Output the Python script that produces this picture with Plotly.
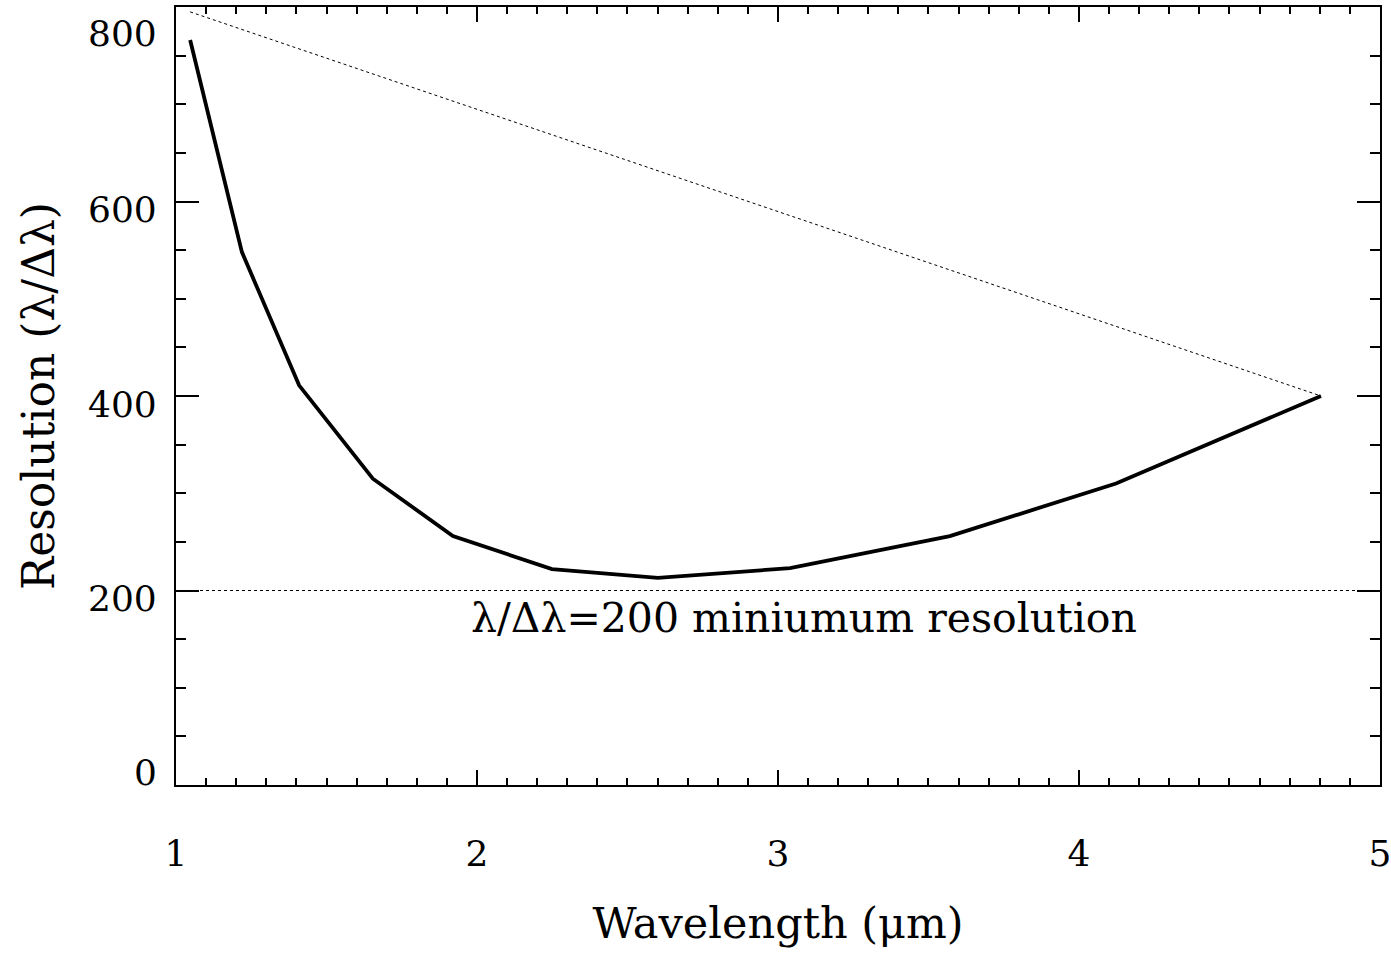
import plotly.graph_objects as go

# Resolution curve (solid)
wavelength = [1.047, 1.219, 1.409, 1.654, 1.920, 2.249, 2.601, 3.040, 3.571, 4.123, 4.804]
resolution = [766, 548, 411, 315, 256, 222, 213, 223, 256, 310, 400]

# Dotted reference line
ref_wavelength = [1.047, 4.804]
ref_resolution = [795, 400]

# Minimum resolution level
min_wavelength = [1.0, 5.0]
min_resolution = [200, 200]
min_label = "λ/Δλ=200 miniumum resolution"

x_ticks = [1, 2, 3, 4, 5]
y_ticks = [0, 200, 400, 600, 800]

FONT = "DejaVu Serif"

fig = go.Figure()
fig.add_trace(go.Scatter(x=min_wavelength, y=min_resolution, mode="lines",
                         line=dict(color="black", width=1, dash="dot"), showlegend=False))
fig.add_trace(go.Scatter(x=ref_wavelength, y=ref_resolution, mode="lines",
                         line=dict(color="black", width=1, dash="dot"), showlegend=False))
fig.add_trace(go.Scatter(x=wavelength, y=resolution, mode="lines",
                         line=dict(color="black", width=3.8), showlegend=False))

fig.add_annotation(x=3.086, y=172, text=min_label, showarrow=False,
                   font=dict(family=FONT, size=41, color="black"))

# y tick labels placed like the original (kept inside the plot's vertical extent)
for v in y_ticks:
    if v == y_ticks[0]:
        shift = 13
    elif v == y_ticks[-1]:
        shift = -26
    else:
        shift = -8
    fig.add_annotation(x=0, xref="paper", y=v, yref="y", text=str(v), showarrow=False,
                       xanchor="right", yanchor="middle", xshift=-17, yshift=shift,
                       font=dict(family=FONT, size=36, color="black"))

fig.update_layout(
    width=1391, height=955,
    margin=dict(l=176, r=11, t=7, b=170, autoexpand=False),
    paper_bgcolor="white", plot_bgcolor="white",
    font=dict(family=FONT, size=36, color="black"),
)
fig.update_xaxes(
    range=[1, 5.0001], tickvals=x_ticks, ticktext=[str(v) for v in x_ticks],
    showline=True, linecolor="black", linewidth=1.5, mirror="ticks",
    ticks="inside", ticklen=15, tickwidth=1.5, tickcolor="black",
    minor=dict(dtick=0.1, ticks="inside", ticklen=7, tickwidth=1.5, tickcolor="black"),
    showgrid=False, zeroline=False, ticklabelstandoff=36, ticklabeloverflow="allow",
    tickfont=dict(family=FONT, size=36), automargin=False,
    title=dict(text="Wavelength (μm)", font=dict(family=FONT, size=43), standoff=35),
)
fig.update_yaxes(
    range=[0, 800.01], tickvals=y_ticks, showticklabels=False,
    showline=True, linecolor="black", linewidth=1.5, mirror="ticks",
    ticks="inside", ticklen=23, tickwidth=1.5, tickcolor="black",
    minor=dict(dtick=50, ticks="inside", ticklen=10, tickwidth=1.5, tickcolor="black"),
    showgrid=False, zeroline=False, automargin=False,
    title=dict(text="Resolution (λ/Δλ)", font=dict(family=FONT, size=44), standoff=106),
)

fig.write_html("out.html", config={"displayModeBar": False},
               post_script="document.body.style.margin='0';")
